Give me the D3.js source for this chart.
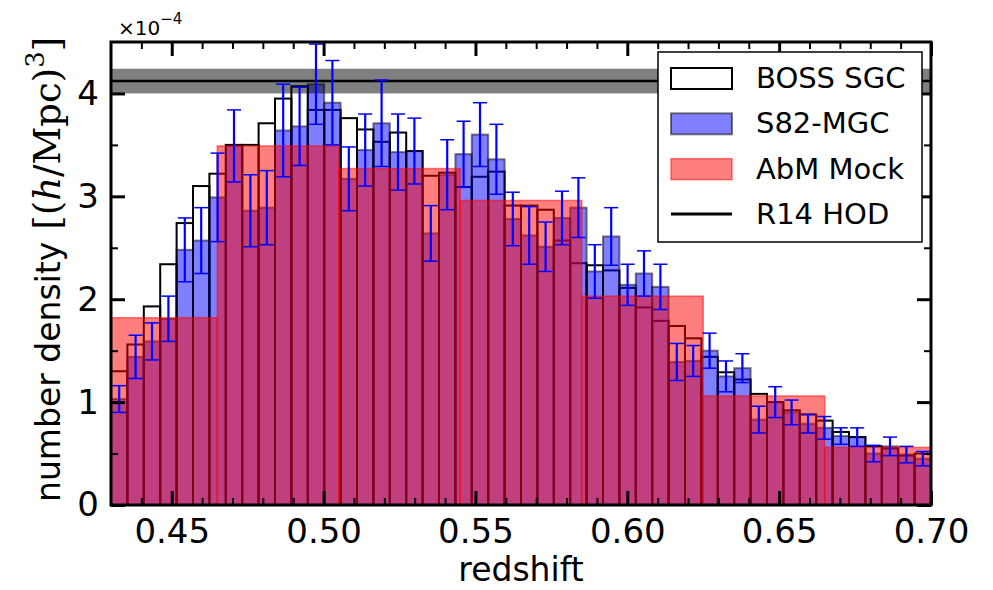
<!DOCTYPE html>
<html>
<head>
<meta charset="utf-8">
<script src="https://cdn.jsdelivr.net/npm/d3@7/dist/d3.min.js"></script>
<style>
	body { margin: 0; background: #fff; }
	svg { display: block; font-family: "DejaVu Sans", sans-serif; }
</style>
</head>
<body>
<svg id="chart" width="993" height="590"></svg>
<script>
// all densities in units of 1e-4 (h/Mpc)^3
const binEdges = [
	0.4300, 0.4354, 0.4408, 0.4462, 0.4516, 0.4570, 0.4624, 0.4678, 0.4732, 0.4786,
	0.4840, 0.4894, 0.4948, 0.5002, 0.5056, 0.5110, 0.5164, 0.5218, 0.5272, 0.5326,
	0.5380, 0.5434, 0.5488, 0.5542, 0.5596, 0.5650, 0.5704, 0.5758, 0.5812, 0.5866,
	0.5920, 0.5974, 0.6028, 0.6082, 0.6136, 0.6190, 0.6244, 0.6298, 0.6352, 0.6406,
	0.6460, 0.6514, 0.6568, 0.6622, 0.6676, 0.6730, 0.6784, 0.6838, 0.6892, 0.6946,
	0.7000]

const bossSGC = [
	1.30, 1.56, 1.93, 2.34, 2.74, 3.10, 3.22, 3.50, 3.50, 3.71,
	3.95, 4.07, 3.84, 3.84, 3.76, 3.65, 3.53, 3.62, 3.44, 3.20,
	3.23, 3.09, 3.19, 3.24, 2.91, 2.91, 2.87, 2.57, 2.35, 2.33,
	2.28, 2.11, 1.92, 1.79, 1.74, 1.62, 1.44, 1.29, 1.22, 1.08,
	1.00, 0.92, 0.88, 0.82, 0.71, 0.66, 0.57, 0.55, 0.48, 0.50]

const s82MGC = [
	1.03, 1.44, 1.59, 1.81, 2.48, 2.57, 2.99, 3.49, 2.86, 2.89,
	3.64, 3.68, 4.09, 3.91, 3.17, 3.45, 3.71, 3.43, 3.44, 2.64,
	3.21, 3.41, 3.60, 3.36, 2.78, 2.62, 2.51, 2.79, 2.89, 2.27,
	2.61, 2.14, 2.25, 2.12, 1.39, 1.40, 1.50, 1.25, 1.33, 0.83,
	1.00, 0.90, 0.79, 0.75, 0.67, 0.66, 0.50, 0.57, 0.49, 0.45]

const s82Err = [
	0.13, 0.21, 0.18, 0.22, 0.31, 0.32, 0.43, 0.35, 0.35, 0.36,
	0.45, 0.38, 0.39, 0.41, 0.31, 0.35, 0.42, 0.37, 0.32, 0.27,
	0.34, 0.32, 0.31, 0.34, 0.26, 0.28, 0.24, 0.26, 0.29, 0.26,
	0.28, 0.20, 0.22, 0.22, 0.18, 0.15, 0.17, 0.15, 0.14, 0.13,
	0.15, 0.12, 0.09, 0.11, 0.08, 0.09, 0.08, 0.09, 0.08, 0.07]

const mockEdges = [0.425, 0.465, 0.505, 0.545, 0.585, 0.625, 0.665, 0.705]
const abmMock = [1.82, 3.49, 3.27, 2.96, 2.03, 1.06, 0.56]

const hodValue = 4.12
const hodBand = [4.00, 4.24]

const xMajorTicks = [0.45, 0.50, 0.55, 0.60, 0.65, 0.70]
const xMinorTicks = [0.44, 0.46, 0.47, 0.48, 0.49, 0.51, 0.52, 0.53, 0.54, 0.56, 0.57, 0.58, 0.59, 0.61, 0.62, 0.63, 0.64, 0.66, 0.67, 0.68, 0.69]
const yMajorTicks = [0, 1, 2, 3, 4]
const yMinorTicks = [0.5, 1.5, 2.5, 3.5]
const legendLabels = ["BOSS SGC", "S82-MGC", "AbM Mock", "R14 HOD"]

const svg = d3.select("#chart")
const pLeft = 111, pRight = 931, pTop = 42, pBottom = 505

const x = d3.scaleLinear().domain([0.43, 0.70]).range([pLeft, pRight])
const y = d3.scaleLinear().domain([0, 4.5]).range([pBottom, pTop])

svg.append("defs").append("clipPath").attr("id", "plotClip")
	.append("rect")
	.attr("x", pLeft).attr("y", pTop)
	.attr("width", pRight - pLeft).attr("height", pBottom - pTop)

const plot = svg.append("g").attr("clip-path", "url(#plotClip)")

const bins = bossSGC.map((d, i) => ({
	x0: binEdges[i], x1: binEdges[i + 1], boss: d, s82: s82MGC[i], err: s82Err[i]
}))

// BOSS SGC outlines
plot.append("g").selectAll("rect")
	.data(bins)
	.join("rect")
	.attr("x", d => x(d.x0))
	.attr("y", d => y(d.boss))
	.attr("width", d => x(d.x1) - x(d.x0))
	.attr("height", d => y(0) - y(d.boss))
	.attr("fill", "none")
	.attr("stroke", "black")
	.attr("stroke-width", 2)

// S82-MGC
plot.append("g").selectAll("rect")
	.data(bins)
	.join("rect")
	.attr("x", d => x(d.x0))
	.attr("y", d => y(d.s82))
	.attr("width", d => x(d.x1) - x(d.x0))
	.attr("height", d => y(0) - y(d.s82))
	.attr("fill", "blue")
	.attr("fill-opacity", 0.5)
	.attr("stroke", "black")
	.attr("stroke-opacity", 0.5)
	.attr("stroke-width", 2)

// AbM mock, wide bins
plot.append("g").selectAll("rect")
	.data(abmMock)
	.join("rect")
	.attr("x", (d, i) => x(mockEdges[i]))
	.attr("y", d => y(d))
	.attr("width", (d, i) => x(mockEdges[i + 1]) - x(mockEdges[i]))
	.attr("height", d => y(0) - y(d))
	.attr("fill", "red")
	.attr("fill-opacity", 0.5)
	.attr("stroke", "red")
	.attr("stroke-opacity", 0.5)
	.attr("stroke-width", 1.5)

// R14 HOD band and line
plot.append("rect")
	.attr("x", pLeft).attr("width", pRight - pLeft)
	.attr("y", y(hodBand[1]))
	.attr("height", y(hodBand[0]) - y(hodBand[1]))
	.attr("fill", "black")
	.attr("fill-opacity", 0.5)
plot.append("line")
	.attr("x1", pLeft).attr("x2", pRight)
	.attr("y1", y(hodValue)).attr("y2", y(hodValue))
	.attr("stroke", "black")
	.attr("stroke-width", 2.5)

// error bars
const eb = plot.append("g").attr("stroke", "blue")
	.selectAll("g")
	.data(bins)
	.join("g")
	.attr("transform", d => "translate(" + x((d.x0 + d.x1) / 2) + ",0)")
eb.append("line")
	.attr("y1", d => y(d.s82 - d.err)).attr("y2", d => y(d.s82 + d.err))
	.attr("stroke-width", 2.2)
eb.selectAll("line.cap")
	.data(d => [d.s82 - d.err, d.s82 + d.err])
	.join("line")
	.attr("class", "cap")
	.attr("x1", -7).attr("x2", 7)
	.attr("y1", d => y(d)).attr("y2", d => y(d))
	.attr("stroke-width", 1.5)

// axes, ticks pointing inward on all sides
function styleAxis(g, width){
	g.select(".domain").remove()
	g.selectAll("line").attr("stroke", "black").attr("stroke-width", width)
	g.selectAll("text").attr("fill", "black").style("font-size", "34px")
		.style("font-family", "DejaVu Sans")
}
const axes = [
	[d3.axisBottom(x).tickValues(xMajorTicks).tickSize(-14).tickPadding(14).tickFormat(d3.format(".2f")), pBottom, 0, 3],
	[d3.axisBottom(x).tickValues(xMinorTicks).tickSize(-7).tickFormat(""), pBottom, 0, 2],
	[d3.axisTop(x).tickValues(xMajorTicks).tickSize(-14).tickFormat(""), pTop, 0, 3],
	[d3.axisTop(x).tickValues(xMinorTicks).tickSize(-7).tickFormat(""), pTop, 0, 2],
	[d3.axisLeft(y).tickValues(yMajorTicks).tickSize(-14).tickPadding(12).tickFormat(d3.format("d")), 0, pLeft, 3],
	[d3.axisLeft(y).tickValues(yMinorTicks).tickSize(-7).tickFormat(""), 0, pLeft, 2],
	[d3.axisRight(y).tickValues(yMajorTicks).tickSize(-14).tickFormat(""), 0, pRight, 3],
	[d3.axisRight(y).tickValues(yMinorTicks).tickSize(-7).tickFormat(""), 0, pRight, 2]
]
axes.forEach(([axis, ty, tx, w]) => {
	svg.append("g")
		.attr("transform", "translate(" + tx + "," + ty + ")")
		.call(axis)
		.call(g => styleAxis(g, w))
})

svg.append("rect")
	.attr("x", pLeft).attr("y", pTop)
	.attr("width", pRight - pLeft).attr("height", pBottom - pTop)
	.attr("fill", "none")
	.attr("stroke", "black")
	.attr("stroke-width", 3)

// offset text
const off = svg.append("text")
	.attr("x", 118).attr("y", 35)
	.style("font-size", "20px")
	.text("\u00d710")
off.append("tspan")
	.attr("dy", -11)
	.style("font-size", "15px")
	.text("\u22124")

// axis labels
svg.append("text")
	.attr("x", (pLeft + pRight) / 2).attr("y", 581)
	.attr("text-anchor", "middle")
	.style("font-size", "33px")
	.text("redshift")

const yl = svg.append("text")
	.attr("transform", "translate(60,502) rotate(-90)")
	.style("font-size", "33px")
yl.append("tspan").text("number density")
const ylm = yl.append("tspan")
	.attr("dx", 12)
	.style("font-family", "DejaVu Serif")
	.style("font-size", "37px")
ylm.append("tspan").text("[(")
ylm.append("tspan").style("font-style", "italic").text("h")
ylm.append("tspan").text("/Mpc)")
ylm.append("tspan").attr("dy", -16).style("font-size", "26px").text("3")
ylm.append("tspan").attr("dy", 16).text("]")

// legend
const lg = svg.append("g").attr("transform", "translate(658,52)")
lg.append("rect")
	.attr("width", 264).attr("height", 190)
	.attr("fill", "white")
	.attr("stroke", "black")
	.attr("stroke-width", 1.5)
const rowY = d3.scaleLinear().domain([0, 3]).range([26, 162])
const items = lg.selectAll("g.item")
	.data(legendLabels)
	.join("g")
	.attr("class", "item")
	.attr("transform", (d, i) => "translate(0," + rowY(i) + ")")
items.filter((d, i) => i == 0).append("rect")
	.attr("x", 13).attr("y", -10).attr("width", 61).attr("height", 21)
	.attr("fill", "white").attr("stroke", "black").attr("stroke-width", 2)
items.filter((d, i) => i == 1).append("rect")
	.attr("x", 13).attr("y", -10).attr("width", 61).attr("height", 21)
	.attr("fill", "blue").attr("fill-opacity", 0.5)
	.attr("stroke", "black").attr("stroke-opacity", 0.5).attr("stroke-width", 2)
items.filter((d, i) => i == 2).append("rect")
	.attr("x", 13).attr("y", -10).attr("width", 61).attr("height", 21)
	.attr("fill", "red").attr("fill-opacity", 0.5)
	.attr("stroke", "red").attr("stroke-opacity", 0.5).attr("stroke-width", 1.5)
items.filter((d, i) => i == 3).append("line")
	.attr("x1", 13).attr("x2", 74)
	.attr("stroke", "black").attr("stroke-width", 3)
items.append("text")
	.attr("x", 98).attr("y", 10)
	.style("font-size", "29px")
	.text(d => d)
</script>
</body>
</html>
